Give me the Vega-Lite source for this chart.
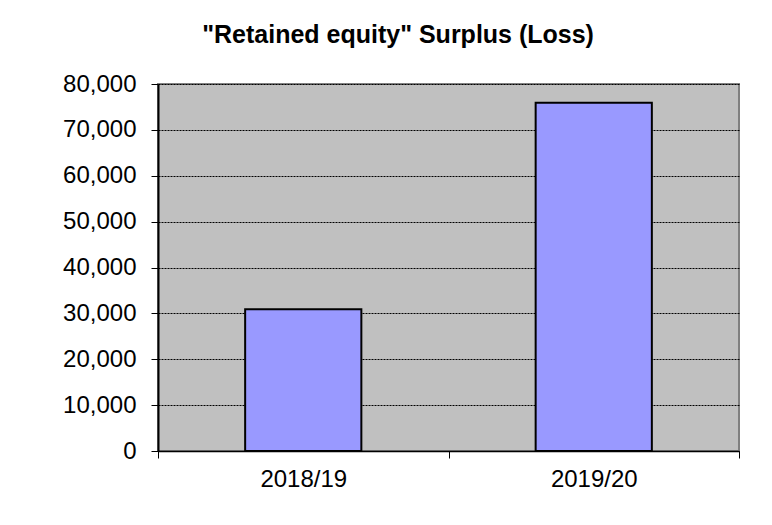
{
  "$schema": "https://vega.github.io/schema/vega-lite/v6.json",
  "width": 581,
  "height": 367,
  "autosize": {"type": "none"},
  "padding": {"left": 158, "top": 84, "right": 33, "bottom": 74},
  "background": "white",
  "title": {
    "text": "\"Retained equity\" Surplus (Loss)",
    "font": "Liberation Sans",
    "fontSize": 25,
    "fontWeight": "bold",
    "color": "black",
    "anchor": "middle",
    "frame": "bounds",
    "offset": 24,
    "dx": -3
  },
  "data": {
    "values": [
      {"year": "2018/19", "value": 30900},
      {"year": "2019/20", "value": 75900}
    ]
  },
  "mark": {
    "type": "bar",
    "fill": "#9999FF",
    "stroke": "black",
    "strokeWidth": 2,
    "width": {"band": 0.4}
  },
  "encoding": {
    "x": {
      "field": "year",
      "type": "nominal",
      "title": null,
      "scale": {"paddingInner": 0, "paddingOuter": 0},
      "axis": {
        "labelAngle": 0,
        "tickBand": "extent",
        "tickSize": 7,
        "tickColor": "black",
        "tickWidth": 1,
        "domainColor": "black",
        "domainWidth": 1.5,
        "labelFont": "Liberation Sans",
        "labelFontSize": 24,
        "labelColor": "black",
        "labelPadding": 9,
        "grid": false
      }
    },
    "y": {
      "field": "value",
      "type": "quantitative",
      "title": null,
      "scale": {"domain": [0, 80000], "nice": false},
      "axis": {
        "values": [0, 10000, 20000, 30000, 40000, 50000, 60000, 70000, 80000],
        "format": ",.0f",
        "tickSize": 7,
        "tickColor": "black",
        "tickWidth": 1,
        "domainColor": "black",
        "domainWidth": 2,
        "labelFont": "Liberation Sans",
        "labelFontSize": 24,
        "labelColor": "black",
        "labelPadding": 15,
        "grid": true,
        "gridColor": "black",
        "gridDash": [2, 1],
        "gridWidth": 1
      }
    }
  },
  "config": {
    "view": {"fill": "#C0C0C0", "stroke": "#808080", "strokeWidth": 2}
  }
}
